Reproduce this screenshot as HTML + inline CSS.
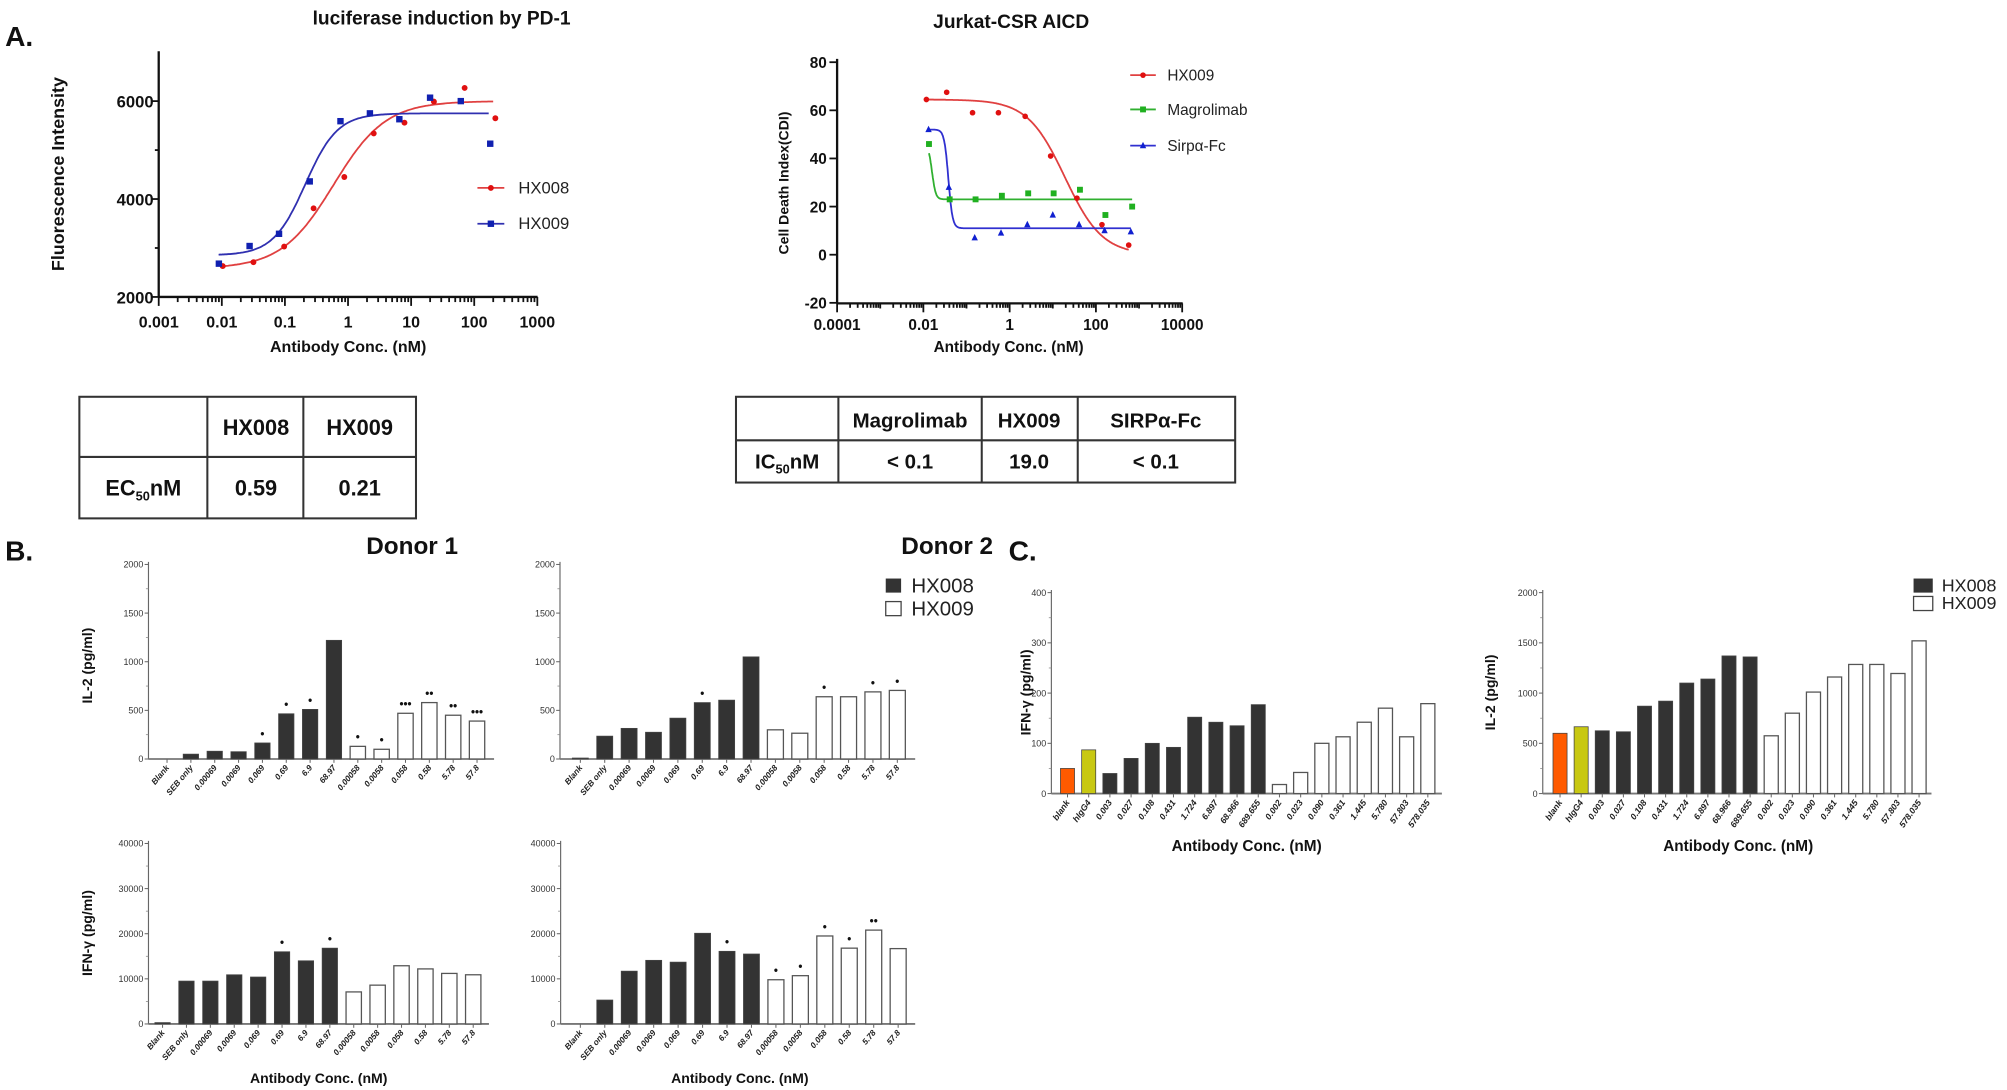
<!DOCTYPE html>
<html><head><meta charset="utf-8"><style>
html,body{margin:0;padding:0;background:#fff;}
svg{display:block;font-family:"Liberation Sans",sans-serif;}
</style></head><body>
<svg id="s" xmlns="http://www.w3.org/2000/svg" width="2007" height="1090" viewBox="0 0 1568 851.6" preserveAspectRatio="none">
<rect width="1568" height="852" fill="#fff"/>
<g font-weight="bold" fill="#111">
<text x="4" y="36" font-size="22">A.</text>
<text x="345" y="19" font-size="15" text-anchor="middle">luciferase induction by PD-1</text>
<text x="790" y="22" font-size="15" text-anchor="middle">Jurkat-CSR AICD</text>
<text transform="translate(50,136) rotate(-90)" font-size="14" text-anchor="middle">Fluorescence Intensity</text>
<text x="272" y="275" font-size="12.5" text-anchor="middle">Antibody Conc. (nM)</text>
<text transform="translate(616,143) rotate(-90)" font-size="11" text-anchor="middle">Cell Death Index(CDI)</text>
<text x="788" y="275" font-size="12" text-anchor="middle">Antibody Conc. (nM)</text>
</g>
<g font-weight="normal" fill="#222" font-size="13">
<text x="405" y="151">HX008</text>
<text x="405" y="179">HX009</text>
</g>
<g fill="#222" font-size="12">
<text x="912" y="63">HX009</text>
<text x="912" y="90">Magrolimab</text>
<text x="912" y="118">Sirpα-Fc</text>
</g>
<g stroke="#333" stroke-width="1.6" fill="none">
<rect x="62" y="310" width="263" height="95"/>
<line x1="62" y1="357" x2="325" y2="357"/>
<line x1="162" y1="310" x2="162" y2="405"/>
<line x1="237" y1="310" x2="237" y2="405"/>
<rect x="575" y="310" width="390" height="67"/>
<line x1="575" y1="344" x2="965" y2="344"/>
<line x1="655" y1="310" x2="655" y2="377"/>
<line x1="767" y1="310" x2="767" y2="377"/>
<line x1="842" y1="310" x2="842" y2="377"/>
</g>
<g font-weight="bold" fill="#111" font-size="17" text-anchor="middle">
<text x="200" y="340">HX008</text>
<text x="281" y="340">HX009</text>
<text x="112" y="387">EC<tspan font-size="10" dy="4">50</tspan><tspan dy="-4">nM</tspan></text>
<text x="200" y="387">0.59</text>
<text x="281" y="387">0.21</text>
<text x="711" y="334" font-size="16">Magrolimab</text>
<text x="804" y="334" font-size="16">HX009</text>
<text x="903" y="334" font-size="16">SIRPα-Fc</text>
<text x="615" y="366" font-size="16">IC<tspan font-size="10" dy="4">50</tspan><tspan dy="-4">nM</tspan></text>
<text x="711" y="366" font-size="16">&lt; 0.1</text>
<text x="804" y="366" font-size="16">19.0</text>
<text x="903" y="366" font-size="16">&lt; 0.1</text>
</g>
<g font-weight="bold" fill="#111">
<text x="4" y="438" font-size="22">B.</text>
<text x="322" y="433" font-size="19" text-anchor="middle">Donor 1</text>
<text x="740" y="433" font-size="19" text-anchor="middle">Donor 2</text>
<text x="788" y="438" font-size="22">C.</text>
<text transform="translate(72,520) rotate(-90)" font-size="11" text-anchor="middle">IL-2 (pg/ml)</text>
<text transform="translate(72,729) rotate(-90)" font-size="11" text-anchor="middle">IFN-γ (pg/ml)</text>
<text x="249" y="846" font-size="11" text-anchor="middle">Antibody Conc. (nM)</text>
<text x="578" y="846" font-size="11" text-anchor="middle">Antibody Conc. (nM)</text>
<text transform="translate(805,541) rotate(-90)" font-size="11" text-anchor="middle">IFN-γ (pg/ml)</text>
<text transform="translate(1168,541) rotate(-90)" font-size="11" text-anchor="middle">IL-2 (pg/ml)</text>
<text x="974" y="665" font-size="12" text-anchor="middle">Antibody Conc. (nM)</text>
<text x="1358" y="665" font-size="12" text-anchor="middle">Antibody Conc. (nM)</text>
</g>
<g fill="#222" font-size="16">
<rect x="692" y="452" width="12" height="11" fill="#333"/>
<rect x="692" y="470" width="12" height="11" fill="#fff" stroke="#444"/>
<text x="712" y="463">HX008</text>
<text x="712" y="481">HX009</text>
<rect x="1495" y="452" width="15" height="11" fill="#333"/>
<rect x="1495" y="466" width="15" height="11" fill="#fff" stroke="#444"/>
<text x="1517" y="462" font-size="14">HX008</text>
<text x="1517" y="476" font-size="14">HX009</text>
</g>
</svg>
<script>
var S=document.getElementById('s'),NS='http://www.w3.org/2000/svg';
function E(t,a,x){var e=document.createElementNS(NS,t);for(var k in a)e.setAttribute(k,a[k]);if(x!=null)e.textContent=x;S.appendChild(e);return e;}
function L(x1,y1,x2,y2,c,w){E('line',{x1:x1,y1:y1,x2:x2,y2:y2,stroke:c||'#111','stroke-width':w||1.4});}
function T(x,y,s,fs,anc,extra){var a={x:x,y:y,'font-size':fs,'text-anchor':anc||'middle','font-weight':'bold',fill:'#111'};for(var k in extra)a[k]=extra[k];E('text',a,s);}
(function(){
 var X=function(l){return 124+(l+3)*49.3},Y=function(v){return 232-(v-2000)*0.03825};
 L(124,40,124,232,'#111',1.8);L(124,232,420,232,'#111',1.8);
 [2000,4000,6000].forEach(function(v){L(118,Y(v),124,Y(v));T(120,Y(v)+5,v,13,'end');});
 [3000,5000].forEach(function(v){L(121,Y(v),124,Y(v));});
 var lab=['0.001','0.01','0.1','1','10','100','1000'];
 for(var d=-3;d<=3;d++){L(X(d),232,X(d),239);T(X(d),256,lab[d+3],12.5);
  if(d<3)for(var m=2;m<10;m++){var xx=X(d+Math.log10(m));L(xx,232,xx,236);}}
 function curve(b,t,ec,h,l0,l1,c){var p=[];for(var l=l0;l<=l1;l+=0.02){var v=b+(t-b)/(1+Math.pow(10,(ec-l)*h));p.push(X(l).toFixed(1)+','+Y(v).toFixed(1));}E('polyline',{points:p.join(' '),fill:'none',stroke:c,'stroke-width':1.4});}
 curve(2580,6000,Math.log10(0.59),1.05,-2.0,2.32,'#e04040');
 curve(2850,5750,Math.log10(0.21),1.7,-2.05,2.25,'#3030b0');
 var rx=[174,198,222,245,269,292,316,339,363,387],rv=[2630,2710,3030,3810,4450,5340,5560,5990,6270,5650];
 var bx=[171,195,218,242,266,289,312,336,360,383],bv=[2680,3040,3290,4360,5590,5750,5630,6070,6000,5130];
 rx.forEach(function(x,i){E('circle',{cx:x,cy:Y(rv[i]),r:2.3,fill:'#e01010'});});
 bx.forEach(function(x,i){E('rect',{x:x-2.5,y:Y(bv[i])-2.5,width:5,height:5,fill:'#1020b0'});});
 L(373,146.8,394,146.8,'#e04040');E('circle',{cx:383.5,cy:146.8,r:2.3,fill:'#e01010'});
 L(373,174.8,394,174.8,'#3030b0');E('rect',{x:381,y:172.3,width:5,height:5,fill:'#1020b0'});
})();
(function(){
 var X=function(l){return 654+(l+4)*33.7},Y=function(v){return 199-v*1.88};
 L(654,46,654,237,'#111',1.8);L(654,237,924,237,'#111',1.8);
 [-20,0,20,40,60,80].forEach(function(v){L(648,Y(v),654,Y(v));T(646,Y(v)+4.5,v,12,'end');});
 var lab={'-4':'0.0001','-2':'0.01','0':'1','2':'100','4':'10000'};
 for(var d=-4;d<=4;d++){L(X(d),237,X(d),d%2==0?244:241);if(lab[d])T(X(d),258,lab[d],12);
  if(d<4)for(var m=2;m<10;m++){var xx=X(d+Math.log10(m));L(xx,237,xx,240.5);}}
 function curve(f,l0,l1,c){var p=[];for(var l=l0;l<=l1;l+=0.01){p.push(X(l).toFixed(1)+','+Y(f(l)).toFixed(1));}E('polyline',{points:p.join(' '),fill:'none',stroke:c,'stroke-width':1.4});}
 curve(function(l){return 64.5/(1+Math.pow(10,(l-1.28)*1.0));},-1.93,2.76,'#e04040');
 curve(function(l){return 23+23/(1+Math.pow(10,(l+1.8)*10));},-1.87,2.84,'#30b030');
 curve(function(l){return 11+41/(1+Math.pow(10,(l+1.42)*9));},-1.9,2.81,'#3030d0');
 var rl=[-1.93,-1.46,-0.86,-0.26,0.36,0.95,1.56,2.14,2.76],rv=[64.5,67.5,59,59,57.5,41,23.5,12.5,4];
 var gl=[-1.87,-1.39,-0.79,-0.18,0.43,1.02,1.63,2.22,2.84],gv=[46,23,23,24.5,25.5,25.5,27,16.5,20];
 var bl=[-1.88,-1.41,-0.81,-0.2,0.41,1.0,1.61,2.2,2.81],bv=[52,28,7,9,12.5,16.5,12.5,10,9.5];
 rl.forEach(function(l,i){E('circle',{cx:X(l),cy:Y(rv[i]),r:2.2,fill:'#e01010'});});
 gl.forEach(function(l,i){E('rect',{x:X(l)-2.3,y:Y(gv[i])-2.3,width:4.6,height:4.6,fill:'#20b020'});});
 function tri(x,y,c){E('polygon',{points:(x-2.5)+','+(y+2)+' '+(x+2.5)+','+(y+2)+' '+x+','+(y-3),fill:c});}
 bl.forEach(function(l,i){tri(X(l),Y(bv[i]),'#1020d0');});
 L(883,58.7,903,58.7,'#e04040');E('circle',{cx:893,cy:58.7,r:2.2,fill:'#e01010'});
 L(883,85.5,903,85.5,'#30b030');E('rect',{x:890.7,y:83.2,width:4.6,height:4.6,fill:'#20b020'});
 L(883,113.8,903,113.8,'#3030d0');tri(893,113.8,'#1020d0');
})();
function bars(o){
 var ax=o.ax,y0=o.y0,k=o.k;
 L(ax,y0-o.max*k-2,ax,y0,'#666',0.9);L(ax,y0,o.xe,y0,'#777',1.4);
 o.ticks.forEach(function(v){var y=y0-v*k;L(ax-3,y,ax,y,'#666',0.8);T(ax-4,y+2.5,v,o.tfs||7,'end',{'font-weight':'normal',fill:'#333'});});
 for(var j=0;j<o.ticks.length-1;j++){var ym=y0-(o.ticks[j]+o.ticks[j+1])/2*k;L(ax-2,ym,ax,ym,'#888',0.6);}
 o.vals.forEach(function(v,i){var cx=o.c0+o.st*i,h=v*k,f=o.fill(i);
  E('rect',{x:cx-o.bw/2,y:y0-h,width:o.bw,height:h,fill:f,stroke:f=='#fff'?'#555':'#444','stroke-width':f=='#fff'?1:0.6});
  L(cx,y0,cx,y0+3,'#666',0.8);
  if(o.stars&&o.stars[i])T(cx,y0-h-4,o.stars[i],9,'middle');
  T(0,0,o.labels[i],o.lfs||6.5,'end',{transform:'translate('+(cx+2)+','+(y0+7)+') rotate('+(o.rot||-50)+')','font-style':'italic',fill:'#222'});
 });
}
var LB=['Blank','SEB only','0.00069','0.0069','0.069','0.69','6.9','68.97','0.00058','0.0058','0.058','0.58','5.78','57.8'];
var fB=function(i){return i<8?'#333':'#fff';};
bars({ax:116,xe:386,y0:593,k:0.076,max:2000,ticks:[0,500,1000,1500,2000],c0:130.5,st:18.63,bw:12,labels:LB,fill:fB,
 vals:[0,50,80,75,165,465,510,1220,130,100,470,580,450,390],stars:{4:'•',5:'•',6:'•',8:'•',9:'•',10:'•••',11:'••',12:'••',13:'•••'}});
bars({ax:437.5,xe:715,y0:593,k:0.076,max:2000,ticks:[0,500,1000,1500,2000],c0:453.4,st:19.05,bw:12.5,labels:LB,fill:fB,
 vals:[10,235,315,275,420,580,605,1050,300,265,640,640,690,705],stars:{5:'•',10:'•',12:'•',13:'•'}});
bars({ax:116,xe:382,y0:800,k:0.003525,max:40000,ticks:[0,10000,20000,30000,40000],c0:127,st:18.67,bw:12,labels:LB,fill:fB,
 vals:[300,9500,9500,10900,10400,16000,14000,16800,7100,8600,12900,12200,11200,10900],stars:{5:'•',7:'•'}});
bars({ax:438,xe:715,y0:800,k:0.003525,max:40000,ticks:[0,10000,20000,30000,40000],c0:453.4,st:19.1,bw:12.5,labels:LB,fill:fB,
 vals:[0,5300,11700,14100,13700,20100,16100,15500,9800,10700,19500,16800,20800,16700],stars:{6:'•',8:'•',9:'•',10:'•',11:'•',12:'••'}});
var LC=['blank','hIgG4','0.003','0.027','0.108','0.431','1.724','6.897','68.966','689.655','0.002','0.023','0.090','0.361','1.445','5.780','57.803','578.035'];
var fC=function(i){return i==0?'#ff5a00':i==1?'#c8c812':i<10?'#333':'#fff';};
bars({ax:821.4,xe:1126.5,y0:620,k:0.3925,max:400,ticks:[0,100,200,300,400],c0:834,st:16.56,bw:11,labels:LC,fill:fC,lfs:6.8,rot:-55,
 vals:[50,87,40,70,100,92,152,142,135,177,18,42,100,113,142,170,113,179]});
bars({ax:1205.3,xe:1509,y0:620,k:0.0785,max:2000,ticks:[0,500,1000,1500,2000],c0:1218.8,st:16.5,bw:11,labels:LC,fill:fC,lfs:6.8,rot:-55,
 vals:[600,665,625,615,870,920,1100,1140,1370,1360,575,800,1010,1160,1285,1285,1195,1520]});
</script>
</body></html>
